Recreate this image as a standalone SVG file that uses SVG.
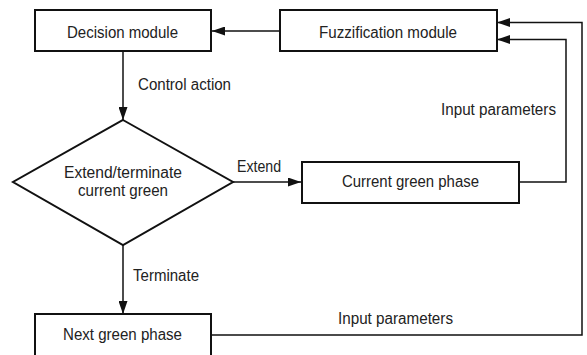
<svg xmlns="http://www.w3.org/2000/svg" width="587" height="355" viewBox="0 0 587 355">
<style>
.box{fill:#fff;stroke:#111;stroke-width:2}
.ln{fill:none;stroke:#111;stroke-width:1.5}
text{font-family:"Liberation Sans",Arial,sans-serif;font-size:16px;fill:#222}
</style>
<defs>
<marker id="ah" viewBox="0 0 13 9" refX="13" refY="4.5" markerWidth="13" markerHeight="9" markerUnits="userSpaceOnUse" orient="auto">
<path d="M0,0 L13,4.5 L0,9 Z" fill="#111"/>
</marker>
</defs>
<g id="connectors">
<line class="ln" x1="280" y1="31" x2="212" y2="31" marker-end="url(#ah)"/>
<line class="ln" x1="123" y1="51" x2="123" y2="120" marker-end="url(#ah)"/>
<line class="ln" x1="233" y1="182" x2="301" y2="182" marker-end="url(#ah)"/>
<line class="ln" x1="123" y1="245" x2="123" y2="314" marker-end="url(#ah)"/>
<polyline class="ln" points="519,182 566,182 566,39.5 497,39.5" marker-end="url(#ah)"/>
<polyline class="ln" points="211,335 582,335 582,22.5 497,22.5" marker-end="url(#ah)"/>
<text x="138" y="90" textLength="93" lengthAdjust="spacingAndGlyphs">Control action</text>
<text x="237" y="172" textLength="44" lengthAdjust="spacingAndGlyphs">Extend</text>
<text x="133" y="281" textLength="66" lengthAdjust="spacingAndGlyphs">Terminate</text>
<text x="441" y="115" textLength="115" lengthAdjust="spacingAndGlyphs">Input parameters</text>
<text x="338" y="324" textLength="115" lengthAdjust="spacingAndGlyphs">Input parameters</text>
</g>
<g id="decision-module">
<rect class="box" x="35" y="10" width="176" height="41"/>
<text x="67" y="38" textLength="111" lengthAdjust="spacingAndGlyphs">Decision module</text>
</g>
<g id="fuzzification-module">
<rect class="box" x="280" y="10" width="217" height="41"/>
<text x="319" y="38" textLength="138" lengthAdjust="spacingAndGlyphs">Fuzzification module</text>
</g>
<g id="extend-terminate">
<polygon class="box" points="123,120 233,182 123,245 13,182"/>
<text x="64" y="178" textLength="118" lengthAdjust="spacingAndGlyphs">Extend/terminate</text>
<text x="78" y="196" textLength="90" lengthAdjust="spacingAndGlyphs">current green</text>
</g>
<g id="current-green-phase">
<rect class="box" x="302" y="162" width="217" height="41"/>
<text x="342" y="187" textLength="137" lengthAdjust="spacingAndGlyphs">Current green phase</text>
</g>
<g id="next-green-phase">
<rect class="box" x="35" y="314" width="176" height="46"/>
<text x="63" y="340" textLength="119" lengthAdjust="spacingAndGlyphs">Next green phase</text>
</g>
</svg>
